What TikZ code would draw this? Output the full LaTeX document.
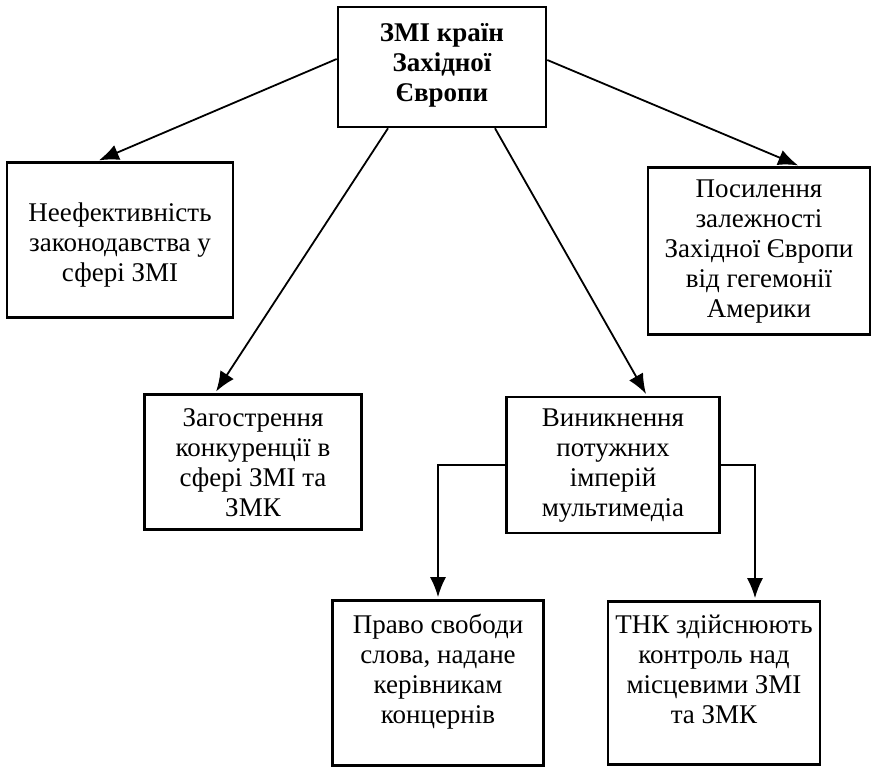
\documentclass[tikz,border=0pt]{standalone}
\usepackage{fontspec}
\setmainfont{Liberation Serif}
\usetikzlibrary{calc}
\usetikzlibrary{arrows.meta}
\tikzset{every picture/.style={>={Latex[length=20pt,width=16pt]}, line width=1.8pt}}
\tikzset{box/.style={draw, line width=2.6pt, inner sep=0pt,
	font=\fontsize{27}{30}\selectfont}}
\tikzset{link/.style={->, line width=1.8pt, shorten >=2pt}}
\newcommand{\boxtxt}[4]{\parbox[c][#2][t]{#1}{\centering\vspace*{#3}#4}}

\begin{document}
\begin{tikzpicture}[x=1pt,y=-1pt]
	\useasboundingbox (0,0) rectangle (878,770);
	\node[box, font=\bfseries\fontsize{27}{30}\selectfont] (zmi) at (442,67)
	{\boxtxt{208pt}{120pt}{16pt}{ЗМІ країн\\Західної\\Європи}};
	\node[box] (nef) at (120,240)
	{\boxtxt{226pt}{155pt}{40pt}{Неефективність\\законодавства у\\сфері ЗМІ}};
	\node[box] (pos) at (759,251)
	{\boxtxt{222pt}{167pt}{12pt}{Посилення\\залежності\\Західної Європи\\від гегемонії\\Америки}};
	\node[box] (zag) at (253,462)
	{\boxtxt{217pt}{135pt}{14pt}{Загострення\\конкуренції в\\сфері ЗМІ та\\ЗМК}};
	\node[box] (vyn) at (613,465)
	{\boxtxt{213pt}{136pt}{12pt}{Виникнення\\потужних\\імперій\\мультимедіа}};
	\node[box] (prav) at (438,683)
	{\boxtxt{211pt}{165pt}{14pt}{Право свободи\\слова, надане\\керівникам\\концернів}};
	\node[box] (tnk) at (714,683)
	{\boxtxt{212pt}{163pt}{14pt}{ТНК здійснюють\\контроль над\\місцевими ЗМІ\\та ЗМК}};
	% arrows from the top box
	\draw[link] ($(zmi.west)+(0,-8)$) -- ($(nef.north)+(-23,0)$);
	\draw[link] ($(zmi.east)+(0,-7)$) -- ($(pos.north)+(41,0)$);
	\draw[link] ($(zmi.south)+(-54,0)$) -- ($(zag.north)+(-38,0)$);
	\draw[link] ($(zmi.south)+(53,0)$) -- ($(vyn.north)+(34,0)$);
	% arrows from the multimedia box
	\draw[link] (vyn.west) -| (prav.north);
	\draw[link] (vyn.east) -| ($(tnk.north)+(41,0)$);
\end{tikzpicture}
\end{document}
